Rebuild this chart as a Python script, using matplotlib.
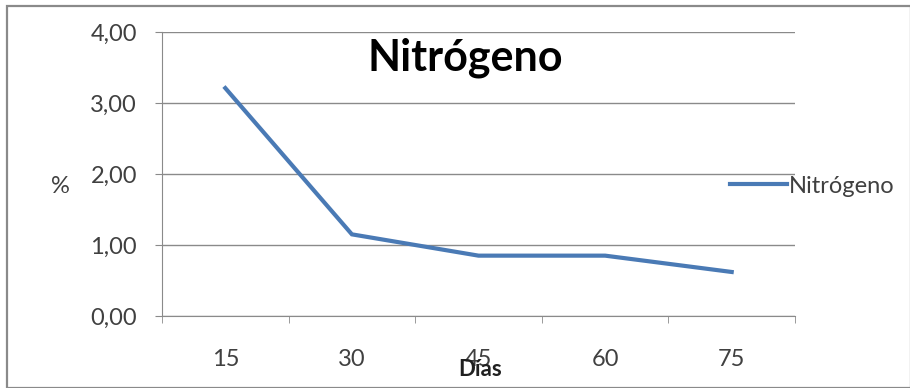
import matplotlib
matplotlib.use("Agg")
import matplotlib.pyplot as plt
from matplotlib.patches import Rectangle

dias = ["15", "30", "45", "60", "75"]
nitrogeno = [3.21, 1.15, 0.85, 0.85, 0.62]
yticks = [0, 1, 2, 3, 4]
ytick_labels = ["0,00", "1,00", "2,00", "3,00", "4,00"]

plt.rcParams["font.family"] = ["Lato", "DejaVu Sans"]

W, H = 910, 388
fig = plt.figure(figsize=(W / 100, H / 100), dpi=100)

# outer chart frame
fig.patches.append(Rectangle((7 / W, 0.5 / H), (W - 6) / W, (H - 6) / H,
                             transform=fig.transFigure, fill=False,
                             edgecolor="#8a8a8a", linewidth=1.6))

ax = fig.add_axes([162 / W, 1 - 316 / H, (795 - 162) / W, (316 - 32) / H])
x = list(range(len(dias)))
line, = ax.plot(x, nitrogeno, color="#4a7ab5", linewidth=3, label="Nitrógeno",
                solid_joinstyle="miter")

ax.set_xlim(-0.5, len(dias) - 0.5)
ax.set_ylim(0, 4)
ax.set_yticks(yticks)
ax.set_yticklabels(ytick_labels)
ax.set_xticks(x)
ax.set_xticklabels(dias)
ax.set_xticks([i - 0.5 for i in range(len(dias) + 1)], minor=True)
ax.tick_params(axis="x", which="major", length=0, pad=24, labelsize=17, colors="#404040")
ax.tick_params(axis="x", which="minor", length=5, color="#8a8a8a", direction="out")
ax.tick_params(axis="y", length=5, color="#8a8a8a", pad=13, labelsize=17,
               labelcolor="#404040")

ax.grid(axis="y", color="#8a8a8a", linewidth=1)
ax.set_axisbelow(True)
for side in ["top", "right"]:
    ax.spines[side].set_visible(False)
ax.spines["left"].set_color("#8a8a8a")
ax.spines["bottom"].set_color("#8a8a8a")

fig.text(465 / W, 1 - 58 / H, "Nitrógeno", ha="center", va="center",
         fontsize=31, fontweight="bold", color="#000000")
fig.text(60 / W, 1 - 186 / H, "%", ha="center", va="center",
         fontsize=17, color="#404040")
fig.text(480 / W, 1 - 369 / H, "Días", ha="center", va="center",
         fontsize=16, fontweight="bold", color="#202020")

ax.legend(handles=[line], loc="center left", bbox_to_anchor=(730 / W, 1 - 186 / H),
          bbox_transform=fig.transFigure, frameon=False, fontsize=17,
          handlelength=2.4, handletextpad=0.1, borderaxespad=0, borderpad=0,
          labelcolor="#404040")

fig.savefig("out.png", dpi=100)
